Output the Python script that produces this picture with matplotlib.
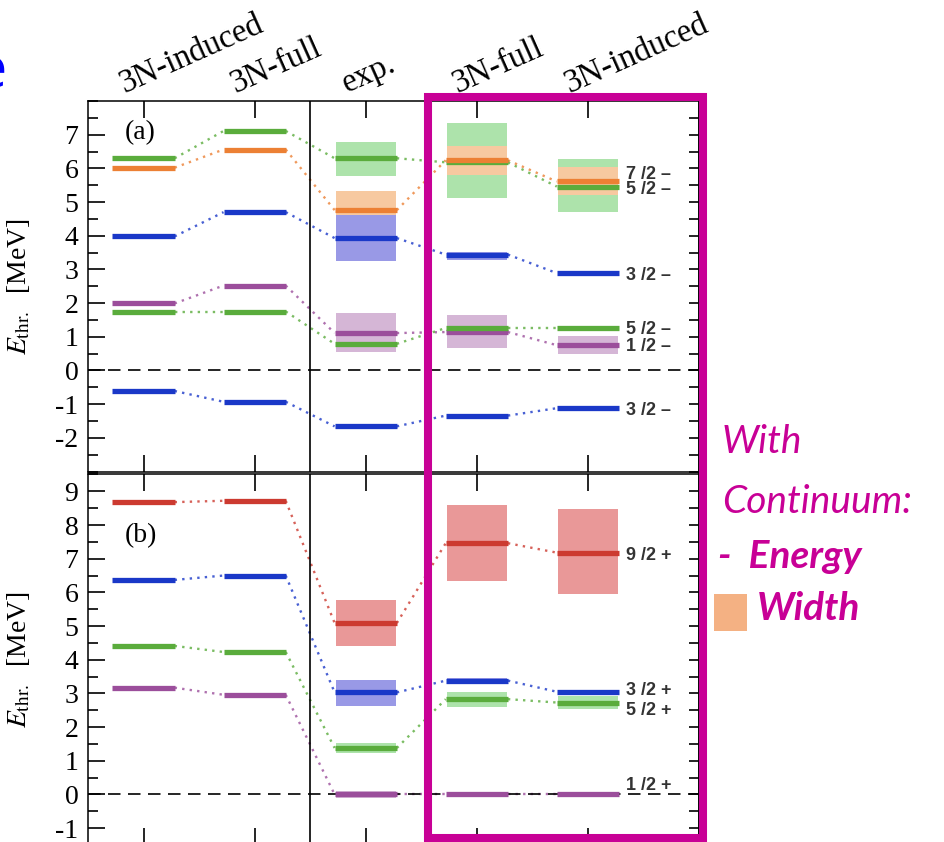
import numpy as np
import matplotlib.pyplot as plt
from matplotlib.patches import Rectangle
from matplotlib.ticker import MultipleLocator, FuncFormatter
import matplotlib.transforms as mtransforms

plt.rcParams['font.family'] = 'Liberation Serif'
plt.rcParams['mathtext.fontset'] = 'stix'
plt.rcParams['axes.unicode_minus'] = False

# columns of the level scheme
columns = [1, 2, 3, 4, 5]
col_labels = ['3N-induced', '3N-full', 'exp.', '3N-full', '3N-induced']

# panel (a): negative parity states, energies in MeV
a_green_hi = [6.30, 7.11, 6.30, 6.18, 5.46]
a_green_hi_band = [None, None, (5.76, 6.78), (5.12, 7.35), (4.70, 6.29)]
a_orange = [6.02, 6.56, 4.76, 6.24, 5.61]
a_orange_band = [None, None, (4.18, 5.34), (5.79, 6.65), (5.20, 6.03)]
a_blue_hi = [3.98, 4.70, 3.93, 3.44, 2.89]
a_blue_hi_band = [None, None, (3.26, 4.62), (3.27, 3.53), (2.82, 2.96)]
a_purple = [1.99, 2.52, 1.11, 1.14, 0.75]
a_purple_band = [None, None, (0.56, 1.70), (0.66, 1.65), (0.49, 1.01)]
a_green_lo = [1.75, 1.75, 0.79, 1.26, 1.26]
a_blue_lo = [-0.61, -0.93, -1.66, -1.34, -1.12]
a_state_labels = ['7 /2 \u2013', '5 /2 \u2013', '3 /2 \u2013', '5 /2 \u2013', '1 /2 \u2013', '3 /2 \u2013']
a_state_y = [5.82, 5.37, 2.83, 1.21, 0.71, -1.19]

# panel (b): positive parity states
b_red = [8.68, 8.72, 5.09, 7.46, 7.18]
b_red_band = [None, None, (4.42, 5.78), (6.33, 8.60), (5.94, 8.47)]
b_blue = [6.37, 6.50, 3.03, 3.38, 3.05]
b_blue_band = [None, None, (2.64, 3.40), (3.31, 3.45), None]
b_green = [4.41, 4.23, 1.38, 2.83, 2.73]
b_green_band = [None, None, (1.23, 1.52), (2.61, 3.04), (2.55, 2.91)]
b_purple = [3.17, 2.96, 0.0, 0.0, 0.0]
b_purple_band = [None, None, (-0.09, 0.09), None, None]
b_state_labels = ['9 /2 +', '3 /2 +', '5 /2 +', '1 /2 +']
b_state_y = [7.09, 3.09, 2.50, 0.27]

green, green_l = '#5aac3c', '#ade3ab'
orange, orange_l = '#ec8034', '#f7c9a0'
blue, blue_l = '#1a38c8', '#9999e6'
purple, purple_l = '#9b4e9b', '#d5b6d6'
red, red_l = '#cc3a30', '#e99898'
magenta = '#c80096'

HW = 0.28     # half width of a level bar
BW = 0.27     # half width of a resonance band


def draw_bands(ax, bands, col):
    for x, b in zip(columns, bands):
        if b is None:
            continue
        ax.fill_between([x - BW, x + BW], b[0], b[1], color=col, lw=0, zorder=1)


def draw_levels(ax, energies, col):
    for i in range(len(columns) - 1):
        ax.plot([columns[i] + HW, columns[i + 1] - HW], [energies[i], energies[i + 1]],
                ls=(0, (1.0, 2.2)), lw=1.7, color=col, alpha=0.8, zorder=2)
    for x, e in zip(columns, energies):
        ax.plot([x - HW, x + HW], [e, e], color=col, lw=3.8, solid_capstyle='butt', zorder=3)


def style_axis(ax, ylo, yhi, labels):
    ax.set_xlim(0.5, 6.0)
    ax.set_ylim(ylo, yhi)
    ax.axhline(0, color='k', ls=(0, (7.5, 4.5)), lw=1.2, zorder=2.5)
    ax.axvline(2.5, color='k', lw=1.2, zorder=2.5)
    ax.set_xticks(columns)
    ax.tick_params(axis='x', which='both', direction='in', top=True, bottom=True,
                   labelbottom=False, labeltop=False, length=12, width=1.2)
    ax.set_yticks(labels)
    ax.yaxis.set_minor_locator(MultipleLocator(0.5))
    ax.yaxis.set_major_formatter(FuncFormatter(lambda v, p: f'{v:g}'))
    ax.tick_params(axis='y', which='major', direction='in', length=12, width=1.2,
                   labelsize=20, pad=7, right=False)
    ax.tick_params(axis='y', which='minor', direction='in', length=7, width=1.2, right=False)
    sec = ax.secondary_yaxis('right')
    sec.set_yticks(np.arange(np.ceil(ylo * 2) / 2, yhi, 0.5))
    sec.tick_params(direction='in', length=7, width=1.2, labelright=False)
    sec.spines['right'].set_linewidth(1.2)
    for s in ax.spines.values():
        s.set_linewidth(1.1)
    ax.set_ylabel(r'$E_{\mathrm{thr.}}$  [MeV]', fontsize=20)
    ax.yaxis.set_label_coords(-0.092, 0.5)


fig = plt.figure(figsize=(9.45, 8.42), dpi=100)
W, H = 945.0, 842.0
ax_a = fig.add_axes([88 / W, 1 - 471.5 / H, 611 / W, 370.5 / H])
ax_b = fig.add_axes([88 / W, 1 - 845.0 / H, 611 / W, 370.5 / H])

# panel (a)
draw_bands(ax_a, a_green_hi_band, green_l)
draw_bands(ax_a, a_orange_band, orange_l)
draw_bands(ax_a, a_blue_hi_band, blue_l)
draw_bands(ax_a, a_purple_band, purple_l)
draw_levels(ax_a, a_blue_lo, blue)
draw_levels(ax_a, a_blue_hi, blue)
draw_levels(ax_a, a_purple, purple)
draw_levels(ax_a, a_green_lo, green)
draw_levels(ax_a, a_green_hi, green)
draw_levels(ax_a, a_orange, orange)
style_axis(ax_a, -3, 8, range(-2, 8))
ax_a.text(0.06, 0.915, '(a)', transform=ax_a.transAxes, fontsize=20, va='center')
for lab, y in zip(a_state_labels, a_state_y):
    ax_a.text(5.34, y, lab, fontsize=13, family='Liberation Sans', weight='bold',
              color='#333333', va='center')

# panel (b)
draw_bands(ax_b, b_red_band, red_l)
draw_bands(ax_b, b_blue_band, blue_l)
draw_bands(ax_b, b_green_band, green_l)
draw_bands(ax_b, b_purple_band, purple_l)
draw_levels(ax_b, b_purple, purple)
draw_levels(ax_b, b_green, green)
draw_levels(ax_b, b_blue, blue)
draw_levels(ax_b, b_red, red)
style_axis(ax_b, -1.5, 9.5, range(-1, 10))
ax_b.text(0.06, 0.835, '(b)', transform=ax_b.transAxes, fontsize=20, va='center')
for lab, y in zip(b_state_labels, b_state_y):
    ax_b.text(5.34, y, lab, fontsize=13, family='Liberation Sans', weight='bold',
              color='#333333', va='center')

# rotated column headers above panel (a)
for x, lab in zip(columns, col_labels):
    tr = mtransforms.blended_transform_factory(ax_a.transData, ax_a.transAxes)
    tr = tr + mtransforms.ScaledTranslation(-19 / 100, 8 / 100, fig.dpi_scale_trans)
    ax_a.text(x, 1.0, lab, transform=tr, rotation=24, rotation_mode='anchor',
              ha='left', va='baseline', fontsize=23.5, clip_on=False)

# highlight box and annotation
fig.add_artist(Rectangle((428 / W, 1 - 838 / H), 275 / W, 741.5 / H, transform=fig.transFigure,
                         fill=False, ec=magenta, lw=5.8, zorder=10))
fig.text(722 / W, 1 - 453 / H, 'With', family='Lato', style='italic', fontsize=28,
         color=magenta, va='baseline')
fig.text(722 / W, 1 - 513 / H, 'Continuum:', family='Lato', style='italic', fontsize=28,
         color=magenta, va='baseline')
fig.text(718 / W, 1 - 568 / H, '-  Energy', family='Lato', style='italic', weight='bold',
         fontsize=28, color=magenta, va='baseline')
fig.add_artist(Rectangle((714 / W, 1 - 631 / H), 33 / W, 37 / H, transform=fig.transFigure,
                         color='#f4b183', lw=0))
fig.text(757 / W, 1 - 620 / H, 'Width', family='Lato', style='italic', weight='bold',
         fontsize=28, color=magenta, va='baseline')

# cut-off slide title letter on the left edge
fig.text(7 / W, 1 - 88 / H, 'e', family='Open Sans', fontsize=40, color='blue',
         ha='right', va='baseline')

fig.savefig('out.png', dpi=100)
